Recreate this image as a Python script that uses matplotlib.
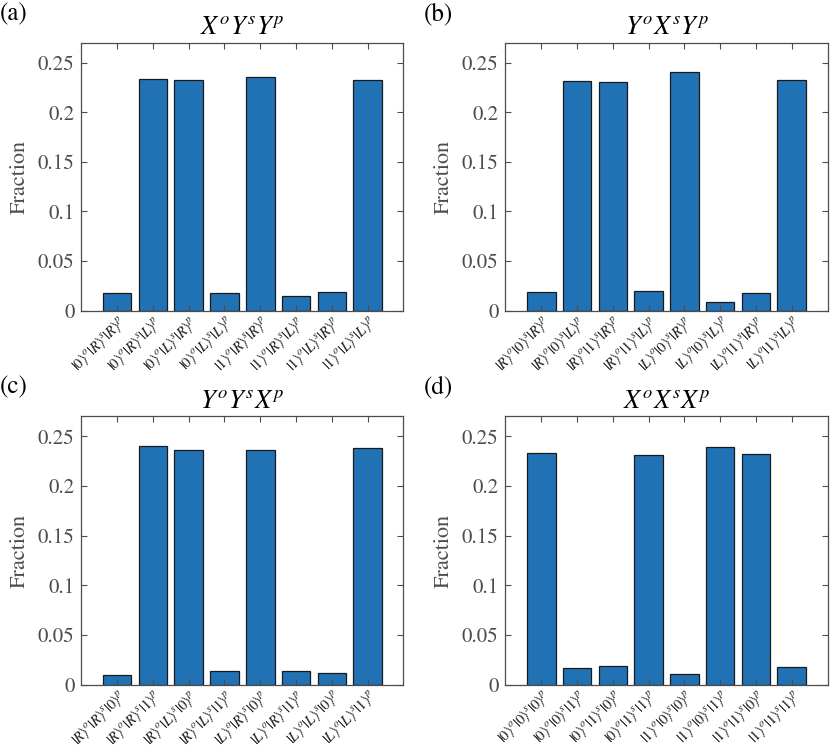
import matplotlib
matplotlib.use("Agg")
import matplotlib.pyplot as plt
import numpy as np

plt.rcParams['font.family'] = ['STIXGeneral', 'DejaVu Serif']
plt.rcParams['mathtext.fontset'] = 'stix'

# panel titles / labels
titles = [r'$X^oY^sY^p$', r'$Y^oX^sY^p$', r'$Y^oY^sX^p$', r'$X^oX^sX^p$']
panel_tags = ['(a)', '(b)', '(c)', '(d)']

# basis states per panel (observer o, system s, pointer p)
states_a = [('0', 'R', 'R'), ('0', 'R', 'L'), ('0', 'L', 'R'), ('0', 'L', 'L'),
            ('1', 'R', 'R'), ('1', 'R', 'L'), ('1', 'L', 'R'), ('1', 'L', 'L')]
states_b = [('R', '0', 'R'), ('R', '0', 'L'), ('R', '1', 'R'), ('R', '1', 'L'),
            ('L', '0', 'R'), ('L', '0', 'L'), ('L', '1', 'R'), ('L', '1', 'L')]
states_c = [('R', 'R', '0'), ('R', 'R', '1'), ('R', 'L', '0'), ('R', 'L', '1'),
            ('L', 'R', '0'), ('L', 'R', '1'), ('L', 'L', '0'), ('L', 'L', '1')]
states_d = [('0', '0', '0'), ('0', '0', '1'), ('0', '1', '0'), ('0', '1', '1'),
            ('1', '0', '0'), ('1', '0', '1'), ('1', '1', '0'), ('1', '1', '1')]

# fractions
frac_a = [0.018, 0.233, 0.232, 0.018, 0.235, 0.015, 0.019, 0.232]
frac_b = [0.019, 0.231, 0.230, 0.020, 0.241, 0.009, 0.018, 0.232]
frac_c = [0.010, 0.240, 0.236, 0.014, 0.236, 0.014, 0.012, 0.238]
frac_d = [0.233, 0.017, 0.019, 0.231, 0.011, 0.239, 0.232, 0.018]

all_states = [states_a, states_b, states_c, states_d]
all_frac = [frac_a, frac_b, frac_c, frac_d]


def ket_label(s):
    o, sy, p = s
    return r'$|%s\rangle^o|%s\rangle^s|%s\rangle^p$' % (o, sy, p)


fig = plt.figure(figsize=(8.3, 7.5), dpi=100)
# axes boxes [left, bottom, width, height] in figure fraction
boxes = [[0.098, 0.586, 0.388, 0.357],
         [0.609, 0.586, 0.388, 0.357],
         [0.098, 0.087, 0.388, 0.358],
         [0.609, 0.087, 0.388, 0.358]]
gray = '#4d4d4d'

for k in range(4):
    ax = fig.add_axes(boxes[k])
    x = np.arange(1, 9)
    ax.bar(x, all_frac[k], width=0.8, color='#2171b5', edgecolor='#1a1a1a', linewidth=0.9)
    ax.set_xlim(0, 9)
    ax.set_ylim(0, 0.27)
    ax.set_yticks([0, 0.05, 0.1, 0.15, 0.2, 0.25])
    ax.set_yticklabels(['0', '0.05', '0.1', '0.15', '0.2', '0.25'])
    ax.set_xticks(x)
    ax.set_xticklabels([ket_label(s) for s in all_states[k]], rotation=45,
                       ha='right', va='top', rotation_mode='anchor', fontsize=10.5)
    ax.tick_params(direction='in', top=True, right=True, length=4, width=0.8,
                   colors=gray, labelcolor='#1a1a1a')
    ax.tick_params(axis='y', labelsize=15, labelcolor=gray, pad=5)
    ax.tick_params(axis='x', pad=2)
    for sp in ax.spines.values():
        sp.set_color(gray)
        sp.set_linewidth(0.9)
    ax.set_ylabel('Fraction', fontsize=16, color=gray, labelpad=6)
    ax.set_title(titles[k], fontsize=19, pad=6)
    b = boxes[k]
    fig.text(b[0] - 0.098, b[1] + b[3] + 0.038, panel_tags[k], fontsize=18,
             ha='left', va='center')

fig.savefig('out.png', dpi=100)
